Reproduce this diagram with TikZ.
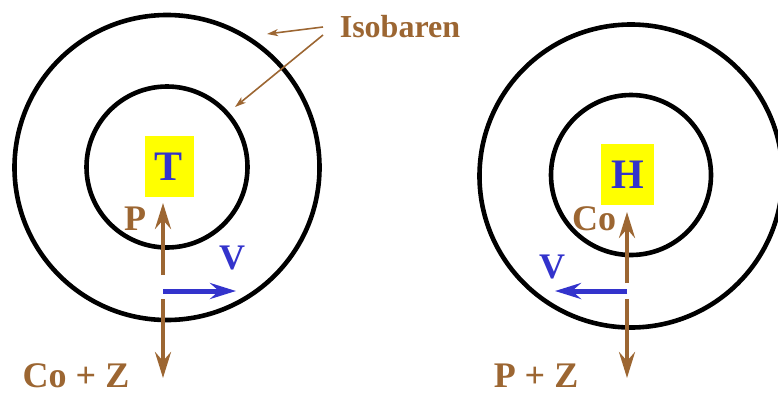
\documentclass[tikz,border=0pt]{standalone}
\usepackage{fontspec}
\setmainfont{Liberation Serif}
\usetikzlibrary{arrows.meta}
\definecolor{brn}{HTML}{9C6632}
\definecolor{blu}{HTML}{3333CC}
\definecolor{yel}{HTML}{FFFF00}
\tikzset{
  ring/.style={circle, draw=black, line width=4.6pt, inner sep=0pt},
  brarrow/.style={draw=brn, line width=4pt, -{Stealth[length=26pt, width=16pt, inset=9pt]}},
  blarrow/.style={draw=blu, line width=5pt, -{Stealth[length=26pt, width=16pt, inset=9pt]}},
  thinarrow/.style={draw=brn, line width=1.6pt, -{Stealth[length=11pt, width=7pt, inset=3pt]}},
  lbl/.style={text=brn, font=\bfseries\fontsize{36}{36}\selectfont, inner sep=0pt, anchor=base},
  vlbl/.style={text=blu, font=\bfseries\fontsize{36}{36}\selectfont, inner sep=0pt, anchor=base},
  box/.style={fill=yel, text=blu, font=\bfseries\fontsize{42}{42}\selectfont, minimum width=49pt, minimum height=61pt, inner sep=0pt}
}
\begin{document}
\begin{tikzpicture}[x=1pt, y=-1pt]
\useasboundingbox (0,0) rectangle (778,394);
% left
\node[ring, minimum size=305pt] (lo) at (167,167.5) {};
\node[ring, minimum size=161pt] (li) at (167,167) {};
\node[box] (T) at (169,166.5) {T};
\coordinate (lps) at (163,275);
\coordinate (lpe) at (163,203);
\coordinate (lds) at (163,299);
\coordinate (lde) at (163,378);
\coordinate (lvs) at (163,291);
\coordinate (lve) at (236,291);
\draw[brarrow] (lps) -- (lpe);
\draw[brarrow] (lds) -- (lde);
\draw[blarrow] (lvs) -- (lve);
\node[lbl] (P) at (135,230) {P};
\node[vlbl] (lV) at (232,269) {V};
\node[lbl] (CoZ) at (76,387) {Co + Z};
% right
\node[ring, minimum size=303pt] (ro) at (631,176) {};
\node[ring, minimum size=160pt] (ri) at (631,175) {};
\node[box, minimum width=53pt] (H) at (627.5,174.5) {H};
\coordinate (rps) at (627,283);
\coordinate (rpe) at (627,212);
\coordinate (rds) at (627,299);
\coordinate (rde) at (627,378);
\coordinate (rvs) at (627,291);
\coordinate (rve) at (555,291);
\draw[brarrow] (rps) -- (rpe);
\draw[brarrow] (rds) -- (rde);
\draw[blarrow] (rvs) -- (rve);
\node[lbl] (Co) at (594,230) {Co};
\node[vlbl] (rV) at (552,278) {V};
\node[lbl] (PZ) at (536,387) {P + Z};
% Isobaren
\node[lbl, font=\bfseries\fontsize{32}{32}\selectfont] (iso) at (400,37) {Isobaren};
\coordinate (a1s) at (323,27);
\coordinate (a1e) at (267,34);
\coordinate (a2s) at (323,35);
\coordinate (a2e) at (235,107);
\draw[thinarrow] (a1s) -- (a1e);
\draw[thinarrow] (a2s) -- (a2e);
\end{tikzpicture}
\end{document}
